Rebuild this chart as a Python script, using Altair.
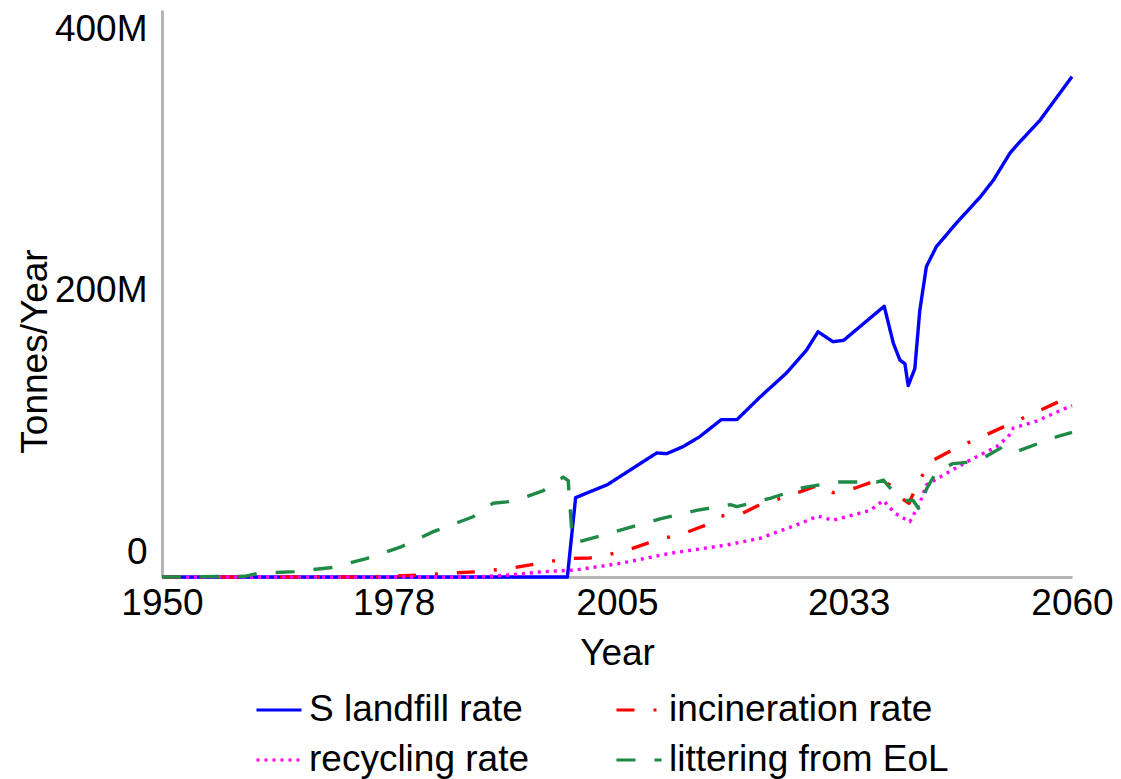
import altair as alt
import pandas as pd

SERIES = ["S landfill rate", "incineration rate", "recycling rate", "littering from EoL"]
COLORS = ["#0000FF", "#FF0000", "#FF00FF", "#1E8A46"]
DASHES = [[1, 0], [18, 19, 3, 19], [3, 5], [19, 19]]
# legend fills column by column: this order gives rows (landfill, incineration), (recycling, littering)
LEGEND_ORDER = [0, 2, 1, 3]

X_TICKS = [1950, 1978, 2005, 2033, 2060]
Y_TICKS = [0, 200e6, 400e6]

landfill_years = [1950, 1999, 2000, 2003.8, 2006.2, 2009.8, 2011, 2013, 2015, 2017.6, 2019.5,
                  2022.3, 2025.5, 2027.9, 2029.3, 2031.1, 2032.4, 2037.3, 2038.4, 2039.2,
                  2039.8, 2040.2, 2041, 2041.6, 2042.4, 2043.6, 2046, 2048.9, 2050.5,
                  2052.5, 2053.7, 2056.1, 2060]
landfill_vals = [0, 0, 56, 65, 74, 87.5, 87, 92, 99, 111, 111,
                 127, 144, 160, 173, 166, 167, 191, 165, 153,
                 150.5, 135, 147, 188, 219, 233, 249.5, 268, 280,
                 299, 307, 322, 353]

incin_years = [1950, 1975, 1978, 1981.6, 1984.4, 1988, 1991.9, 1995.7, 1999, 2001.7, 2003.8,
               2006.3, 2008.8, 2010.8, 2013.2, 2015.8, 2017.5, 2020, 2022.6, 2024.5, 2027.1,
               2029.5, 2031.1, 2033.8, 2036.8, 2038, 2039.3, 2040.3, 2041.2, 2042.8, 2046,
               2049.5, 2052.9, 2056.3, 2060]
incin_vals = [0, 0, 0.7, 1.4, 2.6, 3.7, 6, 9.7, 13, 13.4, 15.5,
              19, 24, 27.5, 31, 36.7, 43, 44.4, 52, 55, 60,
              65, 59.5, 62.8, 69, 65, 56, 52, 64, 81, 91,
              100, 109, 118, 128]

recyc_years = [1950, 1988, 1992, 1996, 2000, 2005.4, 2011.4, 2018.3, 2022.3, 2026.7, 2029.3,
               2031.1, 2035.6, 2037.2, 2038.6, 2040.4, 2041.6, 2042.4, 2045.4, 2047.7,
               2050.9, 2052.3, 2052.9, 2055.7, 2060]
recyc_vals = [0, 0, 1.4, 3.7, 5, 9.6, 16.7, 22.6, 27.3, 36.7, 43,
              40, 47, 54, 45, 39, 52, 65, 75, 82.5,
              92, 99, 105, 110, 121]

litter_years = [1950, 1960, 1961.5, 1966, 1970.7, 1974.7, 1978.8, 1982.8, 1986, 1987.6, 1990,
                1991.7, 1994.1, 1996.1, 1998.5, 1999.1, 1999.6, 2000.5, 2005.4, 2010.2,
                2014.6, 2018.7, 2019.5, 2023.5, 2027.5, 2031.4, 2036.4, 2037.2, 2038.6,
                2039.6, 2040.8, 2041.6, 2042.4, 2043.6, 2045.6, 2047.7, 2049.3, 2051.7,
                2053.1, 2056.3, 2058.2, 2060]
litter_vals = [0, 0.5, 2.5, 3.8, 6.8, 13, 21, 32, 39, 42.5, 52,
               53, 56.7, 61, 70.5, 68, 27, 25, 33, 41,
               47, 51, 49.6, 55.5, 63, 67, 67, 68.4, 59,
               54, 54, 47, 62, 74, 80, 81, 84, 92,
               88, 95, 99, 102]

rows = []
for name, ys, vs in [(SERIES[0], landfill_years, landfill_vals),
                     (SERIES[1], incin_years, incin_vals),
                     (SERIES[2], recyc_years, recyc_vals),
                     (SERIES[3], litter_years, litter_vals)]:
    for i, (yr, v) in enumerate(zip(ys, vs)):
        rows.append({"series": name, "year": yr, "value": v * 1e6, "order": i})
df = pd.DataFrame(rows)

dom = [SERIES[i] for i in LEGEND_ORDER]
col_rng = [COLORS[i] for i in LEGEND_ORDER]
dash_rng = [DASHES[i] for i in LEGEND_ORDER]

FONT = "Liberation Sans"
FS = 37

chart = alt.Chart(df).mark_line(strokeWidth=3.4, strokeCap="butt", strokeJoin="round").encode(
    x=alt.X("year:Q",
            scale=alt.Scale(domain=[1950, 2060], nice=False, zero=False),
            axis=alt.Axis(values=X_TICKS, format="d", title="Year", grid=False, ticks=False,
                          domainColor="#B4B4B4", domainWidth=3, labelPadding=8,
                          labelFont=FONT, labelFontSize=FS, labelColor="black",
                          titleFont=FONT, titleFontSize=FS, titleFontWeight="normal",
                          titleColor="black", titlePadding=14, labelFlush=False,
                          labelOverlap=False)),
    y=alt.Y("value:Q",
            scale=alt.Scale(domain=[0, 400e6], nice=False),
            axis=alt.Axis(values=Y_TICKS, title="Tonnes/Year", grid=False, ticks=False,
                          domainColor="#B4B4B4", domainWidth=3, labelPadding=15,
                          labelExpr="datum.value == 0 ? '0' : format(datum.value / 1e6, 'd') + 'M'",
                          labelBaseline=alt.expr("datum.value == 0 ? 'bottom' : (datum.value >= 400000000 ? 'top' : 'middle')"),
                          labelOffset=alt.expr("datum.value == 0 ? -6 : (datum.value >= 400000000 ? 1 : -3)"),
                          labelFont=FONT, labelFontSize=FS, labelColor="black",
                          titleFont=FONT, titleFontSize=FS, titleFontWeight="normal",
                          titleColor="black", titleX=-127, titleY=341, titleAngle=-90,
                          titleAlign="center", titleBaseline="middle",
                          labelOverlap=False, labelFlush=False)),
    color=alt.Color("series:N",
                    scale=alt.Scale(domain=dom, range=col_rng),
                    legend=alt.Legend(title=None, orient="none", legendX=93, legendY=676,
                                      columns=2, columnPadding=80, rowPadding=8,
                                      symbolType="stroke", symbolSize=2025,
                                      symbolStrokeWidth=3, labelOffset=6,
                                      labelFont=FONT, labelFontSize=FS, labelColor="black",
                                      labelLimit=600)),
    strokeDash=alt.StrokeDash("series:N",
                              scale=alt.Scale(domain=dom, range=dash_rng),
                              legend=None),
    order="order:Q",
).properties(
    width=910, height=567,
    padding={"left": 154, "top": 2, "right": 41, "bottom": 206},
    autosize=alt.AutoSizeParams(type="none"),
).configure_view(stroke=None)

chart.save("out.html", embed_options={"renderer": "svg", "actions": False})
